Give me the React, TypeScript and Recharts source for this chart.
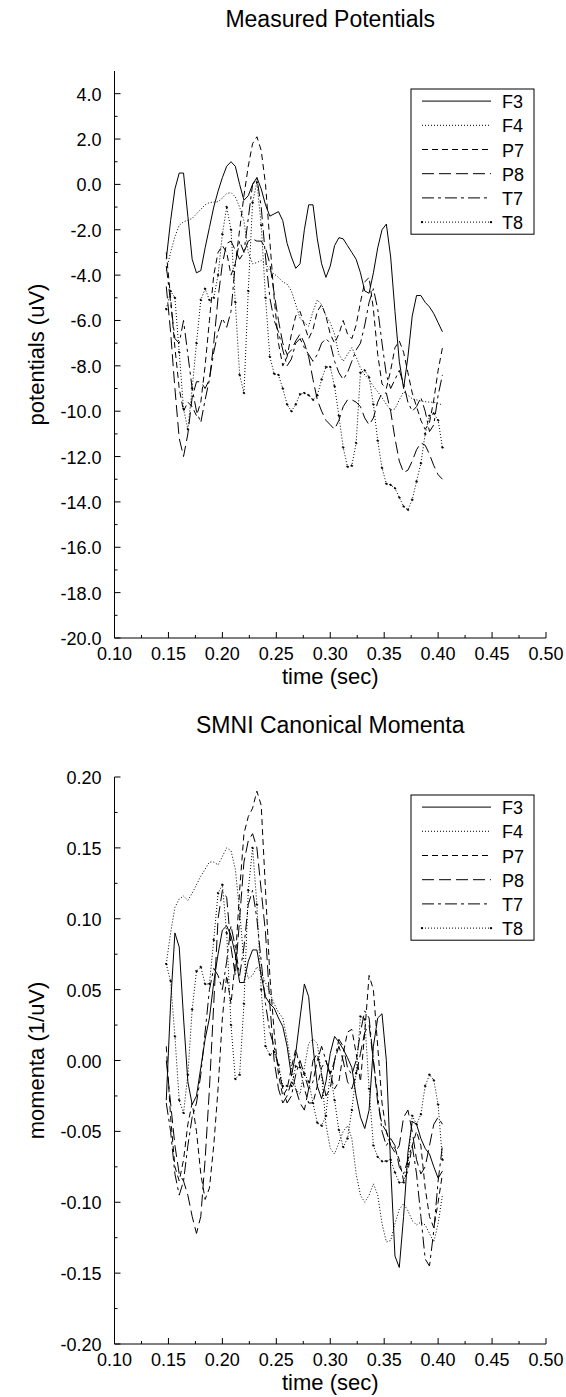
import React from 'react';
import { LineChart, Line, XAxis, YAxis } from 'recharts';

const TIME = [
  0.148, 0.152, 0.156, 0.160, 0.164, 0.168, 0.172, 0.176, 0.180, 0.184,
  0.188, 0.192, 0.196, 0.200, 0.204, 0.208, 0.212, 0.216, 0.220, 0.224,
  0.228, 0.232, 0.236, 0.240, 0.244, 0.248, 0.252, 0.256, 0.260, 0.264,
  0.268, 0.272, 0.276, 0.280, 0.284, 0.288, 0.292, 0.296, 0.300, 0.304,
  0.308, 0.312, 0.316, 0.320, 0.324, 0.328, 0.332, 0.336, 0.340, 0.344,
  0.348, 0.352, 0.356, 0.360, 0.364, 0.368, 0.372, 0.376, 0.380, 0.384,
  0.388, 0.392, 0.396, 0.400, 0.404,
];

const CHANNELS = ['F3', 'F4', 'P7', 'P8', 'T7', 'T8'];

// Measured potentials (uV)
const POT_F3 = [
  -3.3, -1.6, -0.2, 0.5, 0.5, -1.4, -3.3, -3.9, -3.8, -2.8,
  -1.9, -1.0, -0.3, 0.3, 0.8, 1.0, 0.8, 0.0, -0.7, -0.5,
  0.0, 0.3, -0.2, -0.9, -1.4, -1.3, -1.2, -1.6, -2.6, -3.2,
  -3.7, -3.5, -2.0, -0.9, -0.9, -2.4, -3.5, -4.1, -3.6, -2.7,
  -2.35, -2.4, -2.7, -3.0, -3.3, -3.9, -4.7, -4.8, -3.9, -2.8,
  -2.0, -1.75, -3.2, -5.6, -7.8, -9.0, -7.6, -5.8, -4.9, -4.9,
  -5.2, -5.4, -5.7, -6.1, -6.5,
];
const POT_F4 = [
  -3.8, -3.0, -2.3, -1.8, -1.65, -1.58, -1.5, -1.3, -1.1, -0.9,
  -0.8, -0.78, -0.76, -0.6, -0.4, -0.36, -0.55, -1.0, -1.6, -3.0,
  -3.5, -3.45, -3.35, -3.5, -3.8, -3.95, -4.1, -4.3, -4.4, -4.7,
  -5.3, -5.9, -6.1, -6.25, -5.6, -5.1, -5.3, -5.8, -6.1, -6.6,
  -7.5, -7.8, -7.5, -7.2, -7.6, -8.1, -8.4, -8.6, -8.9, -9.14,
  -9.4, -9.7, -9.95, -9.9, -9.5, -9.14, -9.3, -9.45, -9.5, -9.55,
  -9.58, -9.6, -9.6, -9.65, -9.73,
];
const POT_P7 = [
  -3.0, -5.0, -7.2, -9.0, -10.0, -9.6, -9.8, -10.2, -9.6, -8.0,
  -6.0, -4.0, -3.0, -2.7, -3.0, -4.0, -3.5, -2.0, -0.5, 0.8,
  1.8, 2.1, 1.5, 0.0, -2.5, -5.0, -7.0, -8.0, -7.6, -6.6,
  -5.8, -5.6, -6.2, -6.8, -6.4, -5.6, -5.3, -5.8, -6.6, -7.0,
  -6.6, -6.0, -6.6, -6.8, -6.2, -5.2, -4.3, -4.1, -5.5, -7.5,
  -8.8, -9.0, -8.2, -7.2, -6.9, -7.4, -8.3, -9.2, -9.8, -10.4,
  -10.8, -10.5, -9.5, -8.2, -7.2,
];
const POT_P8 = [
  -4.5, -6.5, -9.0, -11.2, -12.0, -11.0, -9.4, -8.7, -8.7, -9.0,
  -8.6, -7.0, -5.0, -3.5, -2.6, -2.5, -2.9, -3.3, -3.0, -2.5,
  -2.4, -2.5, -2.5, -2.8, -3.5, -4.8, -6.0, -7.0, -7.5, -7.3,
  -6.9, -6.6, -7.0, -7.6, -8.6, -9.5, -10.0, -10.4, -10.6, -10.8,
  -10.4, -9.8, -9.5, -9.5, -9.6, -9.8, -10.3, -10.6, -10.3, -9.6,
  -9.2, -9.2, -10.0, -11.2, -12.2, -12.7, -12.6, -12.2, -11.7, -11.4,
  -11.5, -11.9, -12.4, -12.8, -13.0,
];
const POT_T7 = [
  -3.6, -5.2, -6.8, -7.0, -6.0, -7.5, -9.0, -10.0, -10.5, -9.5,
  -8.6, -7.4, -6.5, -5.9, -6.3, -5.6, -3.5, -2.5, -3.0, -1.5,
  0.0, 0.3, -1.0, -3.2, -5.0, -6.0, -6.5, -7.3, -8.0, -7.7,
  -7.0, -6.8, -7.2, -7.5, -7.8, -7.5, -7.0, -6.8, -7.0, -7.8,
  -8.3, -8.6, -8.3, -7.8, -7.3, -7.0, -6.2, -5.2, -4.6, -5.5,
  -7.0, -8.4, -9.0, -8.6, -8.2, -8.8, -9.6, -10.0, -9.8, -9.4,
  -10.0, -10.9, -10.6, -9.3, -8.4,
];
const POT_T8 = [
  -5.5, -4.7, -5.0, -7.4, -9.9, -10.8, -9.0, -7.0, -5.1, -4.6,
  -5.1, -5.0, -4.0, -2.2, -1.0, -2.0, -5.2, -8.4, -9.2, -4.7,
  -0.8, 0.1, -1.8, -5.0, -7.6, -8.35, -8.4, -9.0, -9.7, -10.0,
  -9.7, -9.25, -9.2, -9.3, -9.5, -9.3, -8.6, -8.05, -8.05, -8.9,
  -10.2, -11.6, -12.45, -12.4, -11.4, -8.3, -8.2, -8.5, -9.7, -11.3,
  -12.5, -13.2, -13.25, -13.4, -13.8, -14.2, -14.35, -13.9, -13.1, -12.3,
  -11.0, -10.2, -10.1, -10.4, -11.6,
];

// SMNI canonical momenta (1/uV)
const MOM_F3 = [
  -0.028, 0.040, 0.090, 0.080, 0.030, -0.015, -0.031, -0.025, -0.005, 0.015,
  0.030, 0.055, 0.075, 0.092, 0.095, 0.088, 0.075, 0.055, 0.055, 0.070,
  0.078, 0.078, 0.060, 0.045, 0.040, 0.037, 0.030, 0.024, 0.010, -0.011,
  0.005, 0.030, 0.054, 0.045, 0.010, -0.018, -0.027, -0.015, 0.005, 0.017,
  0.013, 0.008, 0.002, -0.005, -0.025, -0.040, -0.048, -0.035, 0.010, 0.030,
  0.033, 0.000, -0.075, -0.138, -0.146, -0.110, -0.065, -0.043, -0.045, -0.055,
  -0.062, -0.066, -0.075, -0.083, -0.078,
];
const MOM_F4 = [
  0.068, 0.090, 0.108, 0.114, 0.116, 0.113, 0.118, 0.124, 0.130, 0.135,
  0.140, 0.140, 0.138, 0.144, 0.150, 0.148, 0.135, 0.105, 0.070, 0.058,
  0.060, 0.066, 0.062, 0.055, 0.048, 0.040, 0.034, 0.030, 0.015, -0.005,
  -0.020, -0.024, -0.005, 0.012, 0.015, 0.012, -0.010, -0.045, -0.062, -0.066,
  -0.058, -0.050, -0.046, -0.055, -0.080, -0.095, -0.100, -0.095, -0.087, -0.095,
  -0.115, -0.128, -0.127, -0.115, -0.105, -0.101, -0.106, -0.113, -0.116, -0.114,
  -0.116, -0.122, -0.128, -0.115, -0.095,
];
const MOM_P7 = [
  0.010, -0.040, -0.075, -0.085, -0.070, -0.045, -0.030, -0.050, -0.080, -0.098,
  -0.090, -0.060, -0.020, 0.030, 0.060, 0.040, 0.070, 0.120, 0.160, 0.172,
  0.178, 0.190, 0.180, 0.120, 0.060, 0.020, -0.010, -0.025, -0.020, -0.005,
  0.008, -0.005, -0.020, -0.030, -0.030, -0.018, -0.005, 0.000, -0.010, -0.020,
  -0.015, 0.005, 0.020, 0.022, 0.005, -0.015, 0.020, 0.060, 0.050, 0.010,
  -0.030, -0.050, -0.060, -0.062, -0.070, -0.085, -0.078, -0.060, -0.050, -0.060,
  -0.090, -0.110, -0.118, -0.100, -0.080,
];
const MOM_P8 = [
  0.000, -0.030, -0.060, -0.080, -0.085, -0.095, -0.110, -0.122, -0.110, -0.070,
  -0.020, 0.040, 0.100, 0.120, 0.115, 0.080, 0.060, 0.100, 0.140, 0.155,
  0.160, 0.150, 0.120, 0.090, 0.040, 0.000, -0.020, -0.030, -0.025, -0.015,
  -0.020, -0.030, -0.035, -0.020, 0.000, 0.005, -0.010, -0.025, -0.020, 0.000,
  0.010, 0.000, -0.015, -0.020, -0.010, 0.005, 0.020, 0.025, 0.000, -0.030,
  -0.045, -0.050, -0.060, -0.065, -0.060, -0.040, -0.035, -0.050, -0.070, -0.080,
  -0.075, -0.060, -0.045, -0.040, -0.045,
];
const MOM_T7 = [
  -0.030, -0.050, -0.080, -0.095, -0.085, -0.060, -0.040, -0.030, -0.010, 0.020,
  0.050, 0.065, 0.060, 0.050, 0.070, 0.095, 0.080, 0.060, 0.080, 0.110,
  0.120, 0.100, 0.070, 0.040, 0.020, 0.010, -0.005, -0.020, -0.030, -0.025,
  -0.010, 0.000, -0.010, -0.020, -0.015, 0.000, 0.010, 0.000, -0.010, 0.000,
  0.015, 0.010, -0.005, -0.010, 0.000, 0.020, 0.035, 0.030, 0.000, -0.025,
  -0.050, -0.060, -0.055, -0.060, -0.075, -0.080, -0.070, -0.060, -0.080, -0.110,
  -0.140, -0.145, -0.120, -0.085, -0.060,
];
const MOM_T8 = [
  0.068, 0.056, 0.017, -0.028, -0.037, -0.010, 0.036, 0.063, 0.066, 0.054,
  0.054, 0.085, 0.118, 0.124, 0.090, 0.025, -0.013, -0.010, 0.040, 0.120,
  0.150, 0.110, 0.050, 0.010, 0.004, 0.006, -0.003, -0.018, -0.018, -0.018,
  -0.004, -0.005, -0.009, -0.015, -0.030, -0.044, -0.046, -0.039, -0.008, -0.028,
  -0.049, -0.061, -0.055, -0.035, -0.009, 0.031, 0.029, -0.020, -0.060, -0.068,
  -0.071, -0.071, -0.070, -0.079, -0.086, -0.086, -0.073, -0.039, -0.045, -0.038,
  -0.018, -0.010, -0.014, -0.031, -0.070,
];

const X_TICKS = [
  0.1, 0.125, 0.15, 0.175, 0.2, 0.225, 0.25, 0.275, 0.3, 0.325, 0.35, 0.375,
  0.4, 0.425, 0.45, 0.475, 0.5,
];
const POT_TICKS = [
  -20, -19, -18, -17, -16, -15, -14, -13, -12, -11, -10, -9, -8, -7, -6, -5,
  -4, -3, -2, -1, 0, 1, 2, 3, 4,
];
const MOM_TICKS = [
  -0.2, -0.175, -0.15, -0.125, -0.1, -0.075, -0.05, -0.025, 0, 0.025, 0.05,
  0.075, 0.1, 0.125, 0.15, 0.175, 0.2,
];

const FONT = '"Liberation Sans", Arial, Helvetica, sans-serif';
const DASH: Record<string, string | undefined> = {
  F3: undefined,
  F4: '1 2',
  P7: '6 4',
  P8: '12 5',
  T7: '12 4 3 4',
  T8: '1 2',
};

function buildRows(series: number[][]) {
  return TIME.map((t, i) => {
    const row: Record<string, number> = { t };
    CHANNELS.forEach((c, k) => {
      row[c] = series[k][i];
    });
    return row;
  });
}

const POT_ROWS = buildRows([POT_F3, POT_F4, POT_P7, POT_P8, POT_T7, POT_T8]);
const MOM_ROWS = buildRows([MOM_F3, MOM_F4, MOM_P7, MOM_P8, MOM_T7, MOM_T8]);

const W = 566;
const H = 690;
const PL = 114.5;
const PR = 546;
const PT = 71;
const PB = 638;

const isMajor = (v: number, step: number) =>
  Math.abs(v / step - Math.round(v / step)) < 1e-6;

type PanelProps = {
  top: number;
  title: string;
  yLabel: string;
  rows: Record<string, number>[];
  domain: [number, number];
  yTicks: number[];
  yStep: number;
  yDigits: number;
};

function Panel({ top, title, yLabel, rows, domain, yTicks, yStep, yDigits }: PanelProps) {
  const bottomTick = (p: any) => {
    const { x, y, payload } = p;
    const v = payload.value as number;
    const major = isMajor(v, 0.05);
    return (
      <g>
        <line x1={x} x2={x} y1={y} y2={y - (major ? 6 : 3)} stroke="#000" strokeWidth={1} />
        {major && (
          <text x={x} y={y + 16} textAnchor="middle" dominantBaseline="central" fontSize={18} fontFamily={FONT} fill="#000">
            {v.toFixed(2)}
          </text>
        )}
      </g>
    );
  };
  const topTick = (p: any) => {
    const { x, y, payload } = p;
    const major = isMajor(payload.value, 0.05);
    return <line x1={x} x2={x} y1={y} y2={y + (major ? 5 : 3)} stroke="#000" strokeWidth={1} />;
  };
  const leftTick = (p: any) => {
    const { x, y, payload } = p;
    const v = payload.value as number;
    const major = isMajor(v, yStep);
    return (
      <g>
        <line x1={x} x2={x + (major ? 6 : 3)} y1={y} y2={y} stroke="#000" strokeWidth={1} />
        {major && (
          <text x={x - 13} y={y + 1} textAnchor="end" dominantBaseline="central" fontSize={18} fontFamily={FONT} fill="#000">
            {v.toFixed(yDigits)}
          </text>
        )}
      </g>
    );
  };
  const rightTick = (p: any) => {
    const { x, y, payload } = p;
    const major = isMajor(payload.value, yStep);
    return <line x1={x} x2={x - (major ? 6 : 3)} y1={y} y2={y} stroke="#000" strokeWidth={1} />;
  };

  const legendX = 411;
  const legendY = 89;
  const rowH = 24.2;

  return (
    <div style={{ position: 'absolute', left: 0, top, width: W, height: H }}>
      <LineChart
        width={W}
        height={H}
        data={rows}
        margin={{ top: PT, right: W - PR, bottom: 0, left: 0 }}
        style={{ fontFamily: FONT }}
      >
        <XAxis
          xAxisId="b"
          type="number"
          dataKey="t"
          domain={[0.1, 0.5]}
          ticks={X_TICKS}
          interval={0}
          tickSize={0}
          tickMargin={0}
          tickLine={false}
          axisLine={{ stroke: '#000', strokeWidth: 1 }}
          height={H - PB}
          tick={bottomTick}
          allowDataOverflow
        />
        <XAxis
          xAxisId="t"
          orientation="top"
          type="number"
          dataKey="t"
          domain={[0.1, 0.5]}
          ticks={X_TICKS}
          interval={0}
          tickSize={0}
          tickMargin={0}
          tickLine={false}
          axisLine={{ stroke: '#000', strokeWidth: 1 }}
          height={0}
          tick={topTick}
          allowDataOverflow
        />
        <YAxis
          yAxisId="l"
          type="number"
          domain={domain}
          ticks={yTicks}
          interval={0}
          width={PL}
          tickSize={0}
          tickMargin={0}
          tickLine={false}
          axisLine={{ stroke: '#000', strokeWidth: 1 }}
          tick={leftTick}
          allowDataOverflow
        />
        <YAxis
          yAxisId="r"
          orientation="right"
          type="number"
          domain={domain}
          ticks={yTicks}
          interval={0}
          width={0}
          tickSize={0}
          tickMargin={0}
          tickLine={false}
          axisLine={{ stroke: '#000', strokeWidth: 1 }}
          tick={rightTick}
          allowDataOverflow
        />
        {CHANNELS.map((c) => (
          <Line
            key={c}
            xAxisId="b"
            yAxisId="l"
            type="linear"
            dataKey={c}
            stroke="#000"
            strokeWidth={1}
            strokeDasharray={DASH[c]}
            dot={c === 'T8' ? { r: 1, fill: '#000', stroke: '#000', strokeWidth: 1 } : false}
            activeDot={false}
            isAnimationActive={false}
          />
        ))}
      </LineChart>
      <svg
        width={W}
        height={H}
        style={{ position: 'absolute', left: 0, top: 0, pointerEvents: 'none' }}
        fontFamily={FONT}
      >
        <text x={(PL + PR) / 2} y={19} textAnchor="middle" dominantBaseline="central" fontSize={23} fill="#000">
          {title}
        </text>
        <text x={(PL + PR) / 2} y={PB + 38} textAnchor="middle" dominantBaseline="central" fontSize={22} fill="#000">
          time (sec)
        </text>
        <text
          x={36}
          y={(PT + PB) / 2}
          textAnchor="middle"
          dominantBaseline="central"
          fontSize={22}
          fill="#000"
          transform={`rotate(-90 36 ${(PT + PB) / 2})`}
        >
          {yLabel}
        </text>
        <rect x={legendX} y={legendY} width={123} height={rowH * 6} fill="#fff" stroke="#000" strokeWidth={1} />
        {CHANNELS.map((c, i) => {
          const cy = legendY + rowH * (i + 0.5);
          return (
            <g key={c}>
              <line x1={legendX + 11} x2={legendX + 80} y1={cy} y2={cy} stroke="#000" strokeWidth={1} strokeDasharray={DASH[c]} />
              {c === 'T8' && (
                <>
                  <circle cx={legendX + 11} cy={cy} r={1.2} fill="#000" />
                  <circle cx={legendX + 80} cy={cy} r={1.2} fill="#000" />
                </>
              )}
              <text x={legendX + 91} y={cy + 1} dominantBaseline="central" fontSize={18} fill="#000">
                {c}
              </text>
            </g>
          );
        })}
      </svg>
    </div>
  );
}

export default function App() {
  return (
    <div style={{ position: 'absolute', left: 0, top: 0, width: W, height: 1397, background: '#fff' }}>
      <Panel
        top={0}
        title="Measured Potentials"
        yLabel="potentials (uV)"
        rows={POT_ROWS}
        domain={[-20, 5]}
        yTicks={POT_TICKS}
        yStep={2}
        yDigits={1}
      />
      <Panel
        top={706}
        title="SMNI Canonical Momenta"
        yLabel="momenta (1/uV)"
        rows={MOM_ROWS}
        domain={[-0.2, 0.2]}
        yTicks={MOM_TICKS}
        yStep={0.05}
        yDigits={2}
      />
    </div>
  );
}
